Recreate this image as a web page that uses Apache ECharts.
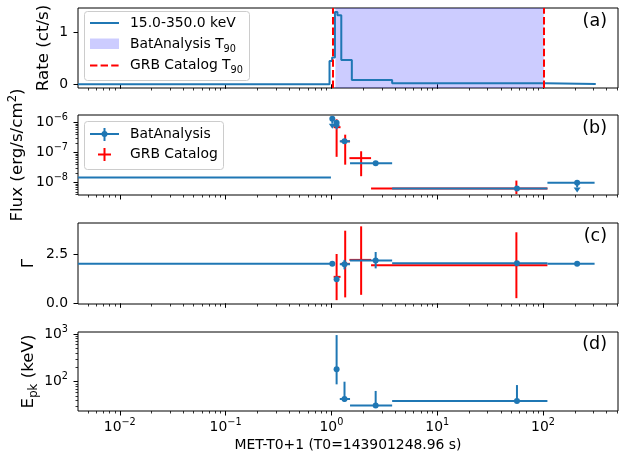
<!DOCTYPE html>
<html>
<head>
<meta charset="utf-8">
<script src="https://cdn.jsdelivr.net/npm/echarts@6/dist/echarts.min.js"></script>
<style>
  html, body { margin: 0; padding: 0; background: #fff; }
  #chart { width: 620px; height: 455px; }
</style>
</head>
<body>
<div id="chart"></div>
<script>
// x axis (MET-T0+1, s)
let xMin = 0.00403, xMax = 511;
let xTicks = [0.01, 0.1, 1, 10, 100];
let xTitle = 'MET-T0+1 (T0=143901248.96 s)';

// (a) light curve, each rate holds until the next time
let lcTime = [0.00403, 0.96, 1.016, 1.08, 1.14, 1.24, 1.56, 3.75, 106, 315];
let lcRate = [0, 0.45, 0.52, 1.40, 1.34, 0.47, 0.085, 0.02, 0.005, 0.005];
let t90Bat = [1.09, 101.5];
let t90Cat = [1.04, 101.8];
let rateTicks = [0, 1];

// BatAnalysis time bins
let batTime  = [0.002, 1.02, 1.12, 1.33, 2.62, 56.7, 210];
let batStart = [0.0005, 1.0, 1.08, 1.20, 1.50, 3.75, 110];
let batEnd   = [0.99, 1.05, 1.16, 1.50, 3.75, 110, 307];

// (b) flux, kind: 0 no marker, 1 point, 2 upper limit
let batFlux   = [1.5e-8, 1.35e-6, 1.0e-6, 2.4e-7, 4.5e-8, 6.4e-9, 1.0e-8];
let batFluxLo = [1.5e-8, 0.93e-6, 0.85e-6, 2.0e-7, 3.9e-8, 5.8e-9, 7.0e-9];
let batFluxHi = [1.5e-8, 1.35e-6, 1.0e-6, 2.9e-7, 5.2e-8, 7.0e-9, 1.0e-8];
let batFluxKind = [0, 2, 2, 1, 1, 1, 2];

// (c) photon index
let batIndex   = [2.0, 2.0, 1.22, 1.98, 2.17, 2.03, 2.0];
let batIndexLo = [2.0, 2.0, 1.22, 1.72, 1.77, 2.03, 2.0];
let batIndexHi = [2.0, 2.0, 1.22, 2.20, 2.60, 2.03, 2.0];
let batIndexKind = [0, 1, 1, 1, 1, 1, 1];

// (d) peak energy (keV)
let batEpk   = [null, null, 182, 43.4, 31.8, 39.5, null];
let batEpkLo = [null, null, 88, 38, 30, 38, null];
let batEpkHi = [null, null, 950, 100, 64, 85, null];

// GRB Catalog
let catTime  = [1.12, 1.35, 1.91, 56.0];
let catStart = [1.05, 1.22, 1.48, 2.37];
let catEnd   = [1.22, 1.50, 2.37, 110];
let catFlux   = [7.1e-7, 2.4e-7, 6.6e-8, 6.4e-9];
let catFluxLo = [7.3e-8, 4.0e-8, 1.65e-8, 4.2e-9];
let catFluxHi = [1.3e-6, 4.0e-7, 1.12e-7, 1.18e-8];
let catIndex   = [1.34, 2.0, 2.2, 1.93];
let catIndexLo = [0.16, 0.3, 0.43, 0.26];
let catIndexHi = [2.5, 3.68, 3.9, 3.6];

let fluxTicks = [1e-8, 1e-7, 1e-6];
let indexTicks = [0, 2.5];
let epkTicks = [100, 1000];

let blue = '#1f77b4', red = '#ff0000';
let font = 'DejaVu Sans';

let chart = echarts.init(document.getElementById('chart'));

function minorTicks(lo, hi) {
    let out = [];
    for (let e = Math.floor(Math.log10(lo)); e <= Math.ceil(Math.log10(hi)); e++) {
        for (let m = 2; m <= 9; m++) {
            let v = m * Math.pow(10, e);
            if (v >= lo && v <= hi) out.push(v);
        }
    }
    return out;
}

let powRich = {
    b: { fontSize: 13.9, fontFamily: font, color: '#000', lineHeight: 20 },
    s: { fontSize: 9.7, fontFamily: font, color: '#000', lineHeight: 11, verticalAlign: 'top' }
};
function powLabel(v) {
    let e = Math.round(Math.log10(v));
    return '{b|10}{s|' + (e < 0 ? '\u2212' + (-e) : e) + '}';
}

let grids = [
    { left: 78, right: 2, top: 8, height: 80 },
    { left: 78, right: 2, top: 115, height: 80 },
    { left: 78, right: 2, top: 223, height: 81 },
    { left: 78, right: 2, top: 332, height: 79 }
].map(g => Object.assign(g, { show: true, borderColor: '#000', borderWidth: 1, backgroundColor: 'transparent', outerBoundsMode: 'none' }));

let xAxes = [];
for (let gi = 0; gi < 4; gi++) {
    let last = gi === 3;
    xAxes.push({
        type: 'log', logBase: 10, gridIndex: gi, position: 'bottom', min: xMin, max: xMax,
        axisLine: { show: false }, splitLine: { show: false },
        axisTick: { show: true, customValues: xTicks, length: 4.5, lineStyle: { color: '#000', width: 1 } },
        axisLabel: { show: last, customValues: xTicks, formatter: powLabel, margin: 6, rich: powRich },
        name: last ? xTitle : '', nameLocation: 'middle', nameGap: 26, nameMoveOverlap: false,
        nameTextStyle: { fontSize: 13.9, fontFamily: font, color: '#000', lineHeight: 17 }
    });
    xAxes.push({
        type: 'log', logBase: 10, gridIndex: gi, position: 'bottom', min: xMin, max: xMax,
        axisLine: { show: false }, splitLine: { show: false }, axisLabel: { show: false },
        axisTick: { show: true, customValues: minorTicks(xMin, xMax), length: 2.5, lineStyle: { color: '#000', width: 0.8 } }
    });
}

function nameStyle(rich) {
    return { fontSize: 16.7, fontFamily: font, color: '#000', lineHeight: 22, rich: rich };
}
let tickStyle = { fontSize: 13.9, fontFamily: font, color: '#000' };
let majorTick = { show: true, length: 4.5, lineStyle: { color: '#000', width: 1 } };

let yAxes = [
    { // 0: rate
        type: 'value', gridIndex: 0, position: 'left', min: -0.072, max: 1.479,
        axisLine: { show: false }, splitLine: { show: false },
        axisTick: Object.assign({ customValues: rateTicks }, majorTick),
        axisLabel: Object.assign({ customValues: rateTicks, margin: 10, formatter: v => String(v) }, tickStyle),
        name: 'Rate (ct/s)', nameLocation: 'middle', nameRotate: 90, nameGap: 23, nameMoveOverlap: false,
        nameTextStyle: nameStyle()
    },
    { // 1: flux
        type: 'log', logBase: 10, gridIndex: 1, position: 'left', min: 3.9e-9, max: 1.81e-6,
        axisLine: { show: false }, splitLine: { show: false },
        axisTick: Object.assign({ customValues: fluxTicks }, majorTick),
        axisLabel: { customValues: fluxTicks, margin: 10, formatter: powLabel, rich: powRich },
        name: '{n|Flux (erg/s/cm}{s|2}{n|)}', nameLocation: 'middle', nameRotate: 90, nameGap: 49, nameMoveOverlap: false,
        nameTextStyle: nameStyle({
            n: { fontSize: 16.7, fontFamily: font, color: '#000', lineHeight: 22 },
            s: { fontSize: 11.7, fontFamily: font, color: '#000', lineHeight: 12, verticalAlign: 'top' }
        })
    },
    { // 2: flux minor
        type: 'log', logBase: 10, gridIndex: 1, position: 'left', min: 3.9e-9, max: 1.81e-6,
        axisLine: { show: false }, splitLine: { show: false }, axisLabel: { show: false },
        axisTick: { show: true, customValues: minorTicks(3.9e-9, 1.81e-6), length: 2.5, lineStyle: { color: '#000', width: 0.8 } }
    },
    { // 3: index
        type: 'value', gridIndex: 2, position: 'left', min: -0.035, max: 4.07,
        axisLine: { show: false }, splitLine: { show: false },
        axisTick: Object.assign({ customValues: indexTicks }, majorTick),
        axisLabel: Object.assign({ customValues: indexTicks, margin: 10, formatter: v => v.toFixed(1) }, tickStyle),
        name: '\u0393', nameLocation: 'middle', nameRotate: 90, nameGap: 38, nameMoveOverlap: false,
        nameTextStyle: nameStyle()
    },
    { // 4: epk
        type: 'log', logBase: 10, gridIndex: 3, position: 'left', min: 24.3, max: 1102,
        axisLine: { show: false }, splitLine: { show: false },
        axisTick: Object.assign({ customValues: epkTicks }, majorTick),
        axisLabel: { customValues: epkTicks, margin: 10, formatter: powLabel, rich: powRich },
        name: '{n|E}{u|pk}{n| (keV)}', nameLocation: 'middle', nameRotate: 90, nameGap: 38, nameMoveOverlap: false,
        nameTextStyle: nameStyle({
            n: { fontSize: 16.7, fontFamily: font, color: '#000', lineHeight: 22 },
            u: { fontSize: 11.7, fontFamily: font, color: '#000', lineHeight: 12, verticalAlign: 'bottom' }
        })
    },
    { // 5: epk minor
        type: 'log', logBase: 10, gridIndex: 3, position: 'left', min: 24.3, max: 1102,
        axisLine: { show: false }, splitLine: { show: false }, axisLabel: { show: false },
        axisTick: { show: true, customValues: minorTicks(24.3, 1102), length: 2.5, lineStyle: { color: '#000', width: 0.8 } }
    }
];

function rows(t, t0, t1, y, y0, y1, kind) {
    let out = [];
    for (let i = 0; i < t.length; i++) {
        if (y[i] == null) continue;
        out.push([t[i], t0[i], t1[i], y[i], y0[i], y1[i], kind ? kind[i] : 0]);
    }
    return out;
}

function errorBars(color) {
    return function (params, api) {
        let t = api.value(0), t0 = api.value(1), t1 = api.value(2);
        let y = api.value(3), y0 = api.value(4), y1 = api.value(5), kind = api.value(6);
        let c = api.coord([t, y]);
        let l = api.coord([t0, y]), r = api.coord([t1, y]);
        let lo = api.coord([t, y0]), hi = api.coord([t, y1]);
        let kids = [
            { type: 'line', shape: { x1: l[0], y1: c[1], x2: r[0], y2: c[1] }, style: { stroke: color, lineWidth: 2 } },
            { type: 'line', shape: { x1: c[0], y1: hi[1], x2: c[0], y2: lo[1] }, style: { stroke: color, lineWidth: 2 } }
        ];
        if (kind >= 1) {
            kids.push({ type: 'circle', shape: { cx: c[0], cy: c[1], r: 3 }, style: { fill: color } });
        }
        if (kind === 2) {
            kids.push({ type: 'polygon', shape: { points: [[lo[0] - 3.5, lo[1]], [lo[0] + 3.5, lo[1]], [lo[0], lo[1] + 5]] }, style: { fill: color } });
        }
        return { type: 'group', children: kids };
    };
}

function errSeries(xi, yi, color, data, z) {
    return {
        type: 'custom', xAxisIndex: xi, yAxisIndex: yi, clip: true, silent: true, z: z,
        renderItem: errorBars(color), encode: { x: [0, 1, 2], y: [3, 4, 5] }, data: data
    };
}

let series = [
    {
        type: 'line', xAxisIndex: 0, yAxisIndex: 0, step: 'end', symbol: 'none', silent: true, z: 3,
        data: lcTime.map((t, i) => [t, lcRate[i]]),
        lineStyle: { color: blue, width: 2 }, itemStyle: { color: blue },
        markArea: {
            silent: true, itemStyle: { color: 'rgba(0,0,255,0.2)' },
            data: [[{ xAxis: t90Bat[0] }, { xAxis: t90Bat[1] }]]
        },
        markLine: {
            silent: true, symbol: 'none', label: { show: false },
            lineStyle: { color: red, width: 2, type: [7.4, 3.2] },
            data: t90Cat.map(v => ({ xAxis: v }))
        }
    },
    errSeries(2, 1, red, rows(catTime, catStart, catEnd, catFlux, catFluxLo, catFluxHi), 4),
    errSeries(2, 1, blue, rows(batTime, batStart, batEnd, batFlux, batFluxLo, batFluxHi, batFluxKind), 5),
    errSeries(4, 3, red, rows(catTime, catStart, catEnd, catIndex, catIndexLo, catIndexHi), 4),
    errSeries(4, 3, blue, rows(batTime, batStart, batEnd, batIndex, batIndexLo, batIndexHi, batIndexKind), 5),
    errSeries(6, 4, blue, rows(batTime, batStart, batEnd, batEpk, batEpkLo, batEpkHi, batTime.map(() => 1)), 5)
];

function label(x, y, text, extra) {
    return {
        type: 'text', x: x, y: y, z: 101,
        style: Object.assign({ text: text, fontSize: 13.9, fontFamily: font, fill: '#000', verticalAlign: 'middle' }, extra || {})
    };
}
let subRich = {
    a: { fontSize: 13.9, fontFamily: font, color: '#000', lineHeight: 20 },
    s: { fontSize: 9.7, fontFamily: font, color: '#000', lineHeight: 11, verticalAlign: 'bottom' }
};

let graphics = [
    // legend (a)
    { type: 'rect', z: 100, shape: { x: 84.5, y: 11.5, width: 165, height: 69, r: 3 }, style: { fill: 'rgba(255,255,255,0.8)', stroke: '#cccccc', lineWidth: 1 } },
    { type: 'line', z: 101, shape: { x1: 90, y1: 23, x2: 119, y2: 23 }, style: { stroke: blue, lineWidth: 2 } },
    { type: 'rect', z: 101, shape: { x: 90, y: 38.5, width: 29, height: 10.5 }, style: { fill: 'rgba(0,0,255,0.2)' } },
    { type: 'line', z: 101, shape: { x1: 90, y1: 65.5, x2: 119, y2: 65.5 }, style: { stroke: red, lineWidth: 2, lineDash: [7.4, 3.2] } },
    label(130, 23, '15.0-350.0 keV'),
    label(130, 44, '{a|BatAnalysis T}{s|90}', { rich: subRich }),
    label(130, 65.5, '{a|GRB Catalog T}{s|90}', { rich: subRich }),
    // legend (b)
    { type: 'rect', z: 100, shape: { x: 84.5, y: 121.5, width: 139, height: 48, r: 3 }, style: { fill: 'rgba(255,255,255,0.8)', stroke: '#cccccc', lineWidth: 1 } },
    { type: 'line', z: 101, shape: { x1: 90, y1: 134, x2: 119, y2: 134 }, style: { stroke: blue, lineWidth: 2 } },
    { type: 'line', z: 101, shape: { x1: 104.5, y1: 128, x2: 104.5, y2: 141 }, style: { stroke: blue, lineWidth: 2 } },
    { type: 'circle', z: 101, shape: { cx: 104.5, cy: 134, r: 3 }, style: { fill: blue } },
    { type: 'line', z: 101, shape: { x1: 98, y1: 154.5, x2: 111, y2: 154.5 }, style: { stroke: red, lineWidth: 2 } },
    { type: 'line', z: 101, shape: { x1: 104.5, y1: 148, x2: 104.5, y2: 161 }, style: { stroke: red, lineWidth: 2 } },
    label(130, 134, 'BatAnalysis'),
    label(130, 154.5, 'GRB Catalog'),
    // panel tags
    label(607, 21, '(a)', { fontSize: 17.5, align: 'right' }),
    label(607, 128, '(b)', { fontSize: 17.5, align: 'right' }),
    label(607, 236, '(c)', { fontSize: 17.5, align: 'right' }),
    label(607, 344, '(d)', { fontSize: 17.5, align: 'right' })
];

let option = {
    animation: false,
    backgroundColor: '#fff',
    textStyle: { fontFamily: font },
    grid: grids,
    xAxis: xAxes,
    yAxis: yAxes,
    series: series,
    graphic: { elements: graphics }
};

chart.setOption(option);
</script>
</body>
</html>
